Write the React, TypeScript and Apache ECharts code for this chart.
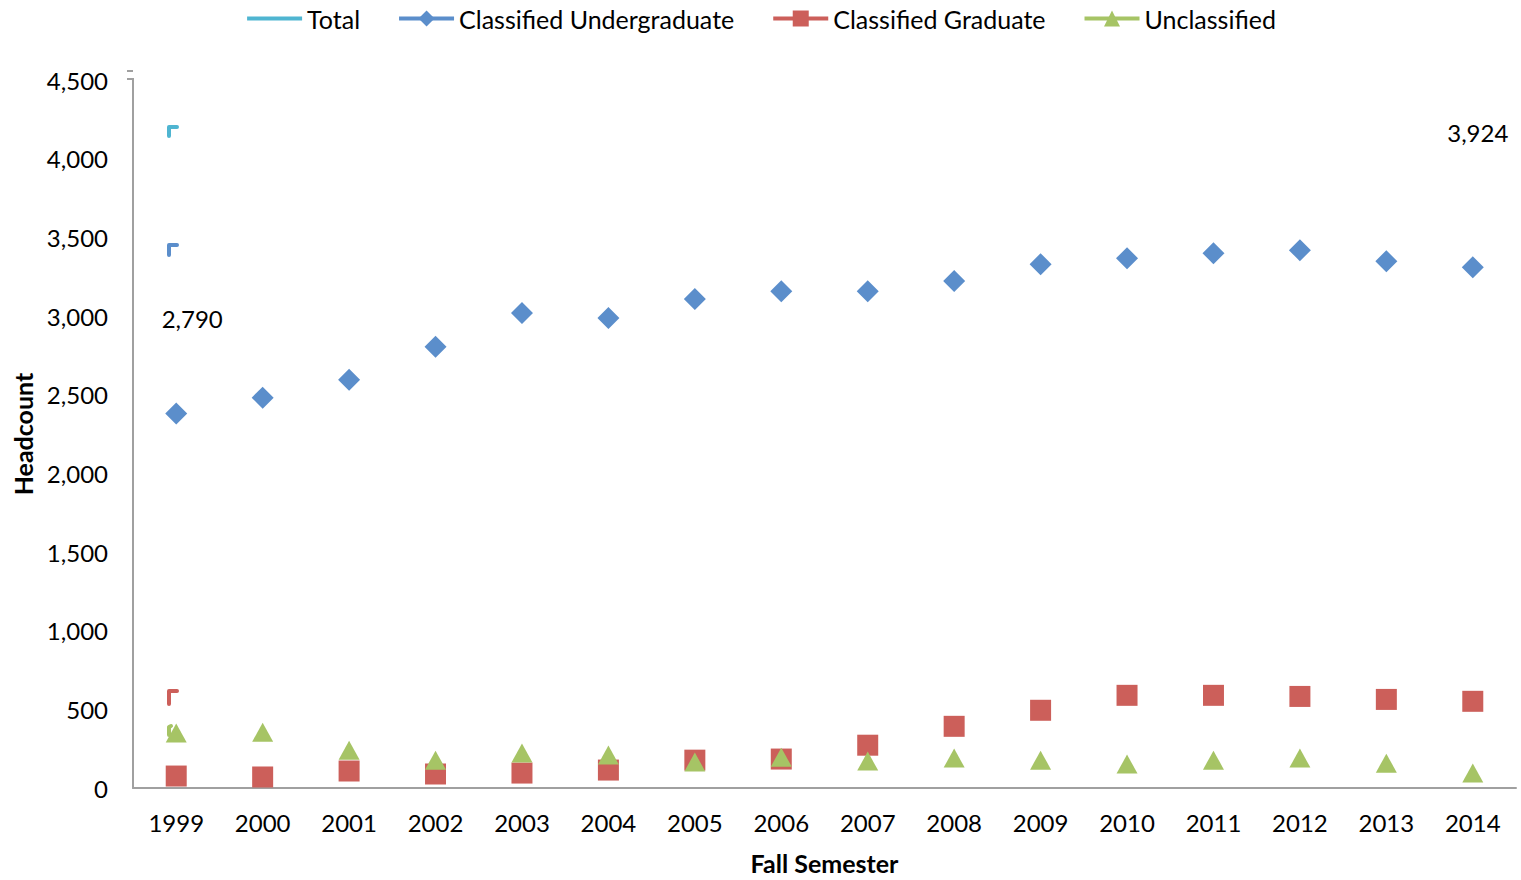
import React, { useEffect, useRef } from "react";
import * as echarts from "echarts";

const years = ["1999","2000","2001","2002","2003","2004","2005","2006","2007","2008","2009","2010","2011","2012","2013","2014"];
const totalValues = [2790, 2905, 2943, 3070, 3336, 3310, 3450, 3538, 3601, 3804, 4000, 4108, 4165, 4190, 4069, 3924];
const undergradValues = [2380, 2481, 2595, 2804, 3019, 2987, 3108, 3158, 3158, 3222, 3329, 3367, 3399, 3418, 3348, 3310];
const graduateValues = [76, 70, 108, 89, 95, 114, 177, 184, 272, 392, 494, 589, 589, 582, 563, 551];
const unclassifiedValues = [350, 354, 240, 177, 222, 209, 165, 196, 171, 190, 177, 152, 177, 190, 158, 95];

const FONT = "Lato, 'Noto Sans', sans-serif";
const FS = 24;
const C_TOTAL = "#4FB5D1";
const C_UG = "#5B8ECB";
const C_GR = "#CC5F5A";
const C_UN = "#A6C465";
const AXIS = "#A0A0A0";

export default function App() {
  const ref = useRef<HTMLDivElement>(null);
  useEffect(() => {
    if (!ref.current) return;
    const chart = echarts.init(ref.current, null, { renderer: "svg" });
    const last = years.length - 1;
    const totalData = totalValues.map((v, i) => {
      if (i === 0) return { value: v, label: { show: true, position: "top", distance: 18, offset: [16, 0] } };
      if (i === last) return { value: v, label: { show: true, position: "top", distance: 25, offset: [5, 0] } };
      return v;
    });
    const hook = (pts: number[][], color: string) => ({
      type: "polyline",
      shape: { points: pts },
      style: { stroke: color, lineWidth: 4, lineCap: "round", lineJoin: "round", fill: null },
      silent: true,
    });
    chart.setOption({
      animation: false,
      backgroundColor: "#ffffff",
      textStyle: { fontFamily: FONT },
      legend: {
        top: 1,
        left: "center",
        itemWidth: 55,
        itemHeight: 20,
        itemGap: 37,
        textStyle: { fontFamily: FONT, fontSize: 25, color: "#000" },
        data: [
          { name: "Total", lineStyle: { opacity: 1, width: 4, color: C_TOTAL }, itemStyle: { opacity: 0 } },
          { name: "Classified Undergraduate", lineStyle: { opacity: 1, width: 4, color: C_UG } },
          { name: "Classified Graduate", lineStyle: { opacity: 1, width: 4, color: C_GR } },
          { name: "Unclassified", lineStyle: { opacity: 1, width: 4, color: C_UN } },
        ],
      },
      grid: { left: 133, right: 5, top: 80, bottom: 84, containLabel: false },
      xAxis: {
        type: "category",
        data: years,
        boundaryGap: true,
        axisLine: { show: true, lineStyle: { color: AXIS, width: 2 } },
        axisTick: { show: false },
        axisLabel: { fontFamily: FONT, fontSize: FS, color: "#000", margin: 22 },
        splitLine: { show: false },
        name: "Fall Semester",
        nameLocation: "middle",
        nameGap: 62,
        nameTextStyle: { fontFamily: FONT, fontSize: 25, fontWeight: "bold", color: "#000" },
      },
      yAxis: {
        type: "value",
        min: 0,
        max: 4500,
        interval: 500,
        axisLine: { show: true, lineStyle: { color: AXIS, width: 2 } },
        axisTick: { show: false },
        splitLine: { show: false },
        axisLabel: {
          fontFamily: FONT,
          fontSize: FS,
          color: "#000",
          margin: 25,
          formatter: (v: number) => v.toLocaleString("en-US"),
        },
        name: "Headcount",
        nameLocation: "middle",
        nameRotate: 90,
        nameGap: 96,
        nameTextStyle: { fontFamily: FONT, fontSize: 25, fontWeight: "bold", color: "#000" },
      },
      series: [
        {
          name: "Total",
          type: "line",
          data: totalData,
          symbol: "circle",
          symbolSize: 2,
          showAllSymbol: true,
          color: C_TOTAL,
          itemStyle: { color: "rgba(0,0,0,0)", borderWidth: 0 },
          lineStyle: { opacity: 0, width: 0 },
          label: { show: false, fontFamily: FONT, fontSize: FS, color: "#000", formatter: (p: any) => Number(p.value).toLocaleString("en-US") },
        },
        {
          name: "Classified Undergraduate",
          type: "line",
          data: undergradValues,
          symbol: "diamond",
          symbolSize: 22,
          showAllSymbol: true,
          color: C_UG,
          itemStyle: { color: C_UG },
          lineStyle: { opacity: 0, width: 0 },
        },
        {
          name: "Classified Graduate",
          type: "line",
          data: graduateValues,
          symbol: "rect",
          symbolSize: 21,
          showAllSymbol: true,
          color: C_GR,
          itemStyle: { color: C_GR },
          lineStyle: { opacity: 0, width: 0 },
        },
        {
          name: "Unclassified",
          type: "line",
          data: unclassifiedValues,
          symbol: "triangle",
          symbolSize: [21, 19],
          showAllSymbol: true,
          color: C_UN,
          itemStyle: { color: C_UN },
          lineStyle: { opacity: 0, width: 0 },
        },
      ],
      graphic: [
        { type: "line", shape: { x1: 127, y1: 71, x2: 133, y2: 71 }, style: { stroke: AXIS, lineWidth: 2 }, silent: true },
        { type: "polyline", shape: { points: [[127, 79], [133, 79], [133, 82]] }, style: { stroke: AXIS, lineWidth: 2, fill: null }, silent: true },
        hook([[169, 136], [169, 127], [177, 127]], C_TOTAL),
        hook([[169, 255], [169, 245], [177, 245]], C_UG),
        hook([[169, 704], [169, 691], [177, 691]], C_GR),
        hook([[169, 735], [169, 727], [171, 726]], C_UN),
      ],
    });
    return () => chart.dispose();
  }, []);
  return <div ref={ref} style={{ position: "fixed", left: 0, top: 0, width: 1521, height: 880, background: "#fff" }} />;
}
